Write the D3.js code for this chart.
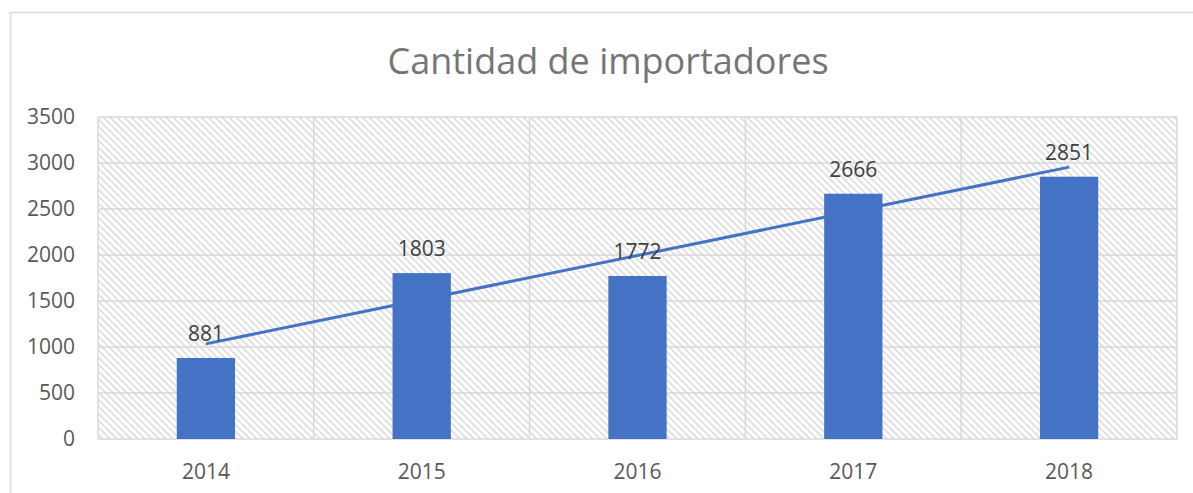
<!DOCTYPE html>
<html>
<head>
<meta charset="utf-8">
<script src="https://cdn.jsdelivr.net/npm/d3@7"></script>
<style>
  body { margin: 0; background: #fff; }
  svg { display: block; font-family: "Open Sans", sans-serif; }
</style>
</head>
<body>
<svg id="chart" width="1193" height="493"></svg>
<script>
// data
const years = ["2014", "2015", "2016", "2017", "2018"]
const importers = [881, 1803, 1772, 2666, 2851]
const yTicks = [0, 500, 1000, 1500, 2000, 2500, 3000, 3500]
// linear trend line, value at first and last category
const trendYears = ["2014", "2018"]
const trendValues = [1034, 2955]

const blue = "#4472c4"
const grid = "#d9d9d9"

const svg = d3.select("#chart")

// hatched background pattern
const hatch = svg.append("defs").append("pattern")
  .attr("id", "hatch")
  .attr("patternUnits", "userSpaceOnUse")
  .attr("width", 7)
  .attr("height", 7)
hatch.append("rect").attr("width", 7).attr("height", 7).attr("fill", "#fff")
hatch.append("path")
  .attr("d", "M-1,-1 L8,8 M-1,6 L1,8 M6,-1 L8,1")
  .attr("stroke", "#dedede")
  .attr("stroke-width", 1.7)

// outer chart frame
svg.append("rect")
  .attr("x", 10.5).attr("y", 12.5)
  .attr("width", 1200).attr("height", 500)
  .attr("fill", "none")
  .attr("stroke", grid)
  .attr("stroke-width", 1.5)

// scales
const plotLeft = 98, plotRight = 1177, plotTop = 117, plotBottom = 439
const x = d3.scaleBand()
  .domain(years)
  .range([plotLeft, plotRight])
  .paddingInner(0.73)
  .paddingOuter(0.365)
const y = d3.scaleLinear()
  .domain([0, 3500])
  .range([plotBottom, plotTop])

// plot background
svg.append("rect")
  .attr("x", plotLeft).attr("y", plotTop)
  .attr("width", plotRight - plotLeft).attr("height", plotBottom - plotTop)
  .attr("fill", "url(#hatch)")

// gridlines
svg.append("g")
  .selectAll("line")
  .data(yTicks).enter()
  .append("line")
  .attr("x1", plotLeft).attr("x2", plotRight)
  .attr("y1", d => y(d)).attr("y2", d => y(d))
  .attr("stroke", grid)
  .attr("stroke-width", 1.5)

const step = x.step()
const bounds = years.map(d => x(d) + x.bandwidth() / 2 - step / 2)
bounds.push(x(years[years.length - 1]) + x.bandwidth() / 2 + step / 2)
svg.append("g")
  .selectAll("line")
  .data(bounds).enter()
  .append("line")
  .attr("x1", d => d).attr("x2", d => d)
  .attr("y1", plotTop).attr("y2", plotBottom)
  .attr("stroke", grid)
  .attr("stroke-width", 1.5)

// bars
svg.append("g")
  .selectAll("rect")
  .data(importers).enter()
  .append("rect")
  .attr("x", (d, i) => x(years[i]))
  .attr("y", d => y(d))
  .attr("width", x.bandwidth())
  .attr("height", d => plotBottom - y(d))
  .attr("fill", blue)

// trend line
const line = d3.line()
  .x((d, i) => x(trendYears[i]) + x.bandwidth() / 2)
  .y(d => y(d))
svg.append("path")
  .datum(trendValues)
  .attr("d", line)
  .attr("fill", "none")
  .attr("stroke", blue)
  .attr("stroke-width", 3)

// data labels
svg.append("g")
  .selectAll("text")
  .data(importers).enter()
  .append("text")
  .attr("x", (d, i) => x(years[i]) + x.bandwidth() / 2)
  .attr("y", d => y(d) - 17)
  .attr("text-anchor", "middle")
  .attr("font-size", 21)
  .attr("fill", "#404040")
  .text(d => d)

// axes
const yAxis = svg.append("g")
  .attr("transform", `translate(${plotLeft},0)`)
  .call(d3.axisLeft(y).tickValues(yTicks).tickFormat(d3.format("d")).tickSize(0).tickPadding(23))
const xAxis = svg.append("g")
  .attr("transform", `translate(0,${plotBottom})`)
  .call(d3.axisBottom(x).tickSize(0).tickPadding(25))
;[yAxis, xAxis].forEach(a => {
  a.select(".domain").remove()
  a.selectAll("text")
    .attr("font-family", "Open Sans, sans-serif")
    .attr("font-size", 21)
    .attr("fill", "#595959")
})

// title
svg.append("text")
  .attr("x", 608).attr("y", 74)
  .attr("text-anchor", "middle")
  .attr("font-size", 36)
  .attr("fill", "#757575")
  .text("Cantidad de importadores")
</script>
</body>
</html>
